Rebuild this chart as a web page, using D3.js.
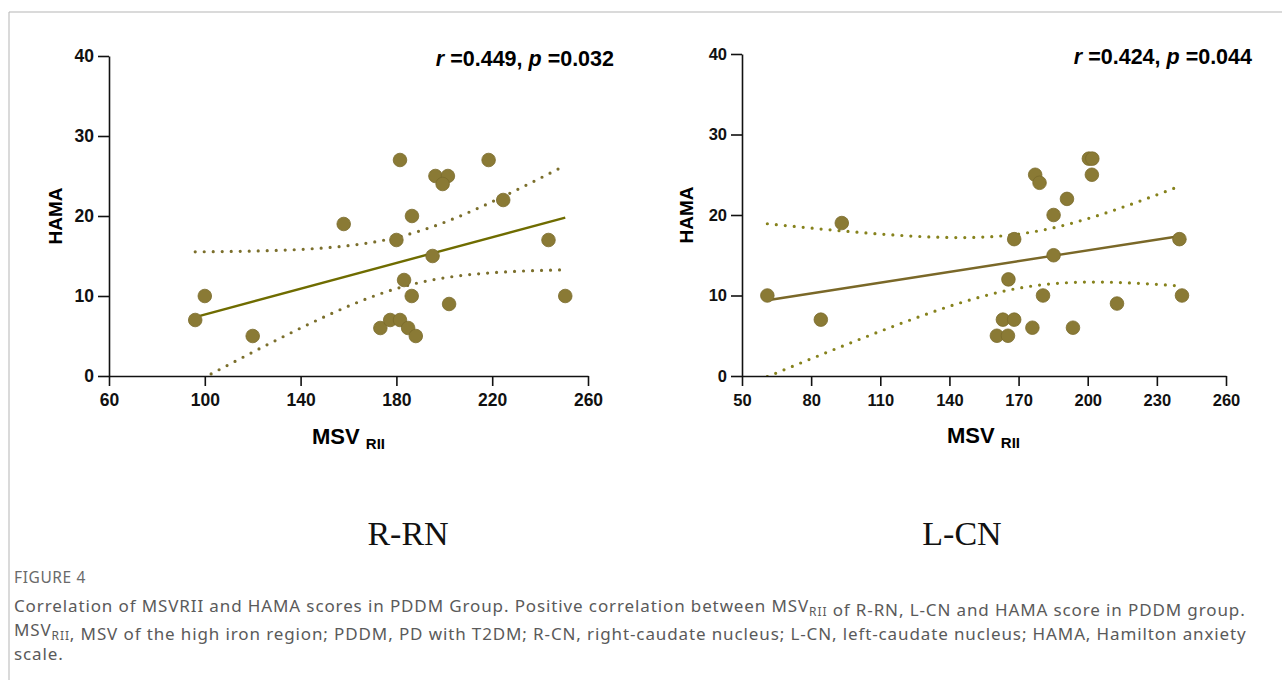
<!DOCTYPE html>
<html>
<head>
<meta charset="utf-8">
<script src="https://cdn.jsdelivr.net/npm/d3@7"></script>
<style>
body { margin: 0; background: #fff; }
svg { display: block; }
.tick text { font-family: Arial, "Liberation Sans", sans-serif; font-weight: bold; fill: #111; }
</style>
</head>
<body>
<div id="chart_area"></div>
<script>
// data
var rrnMsv  = [96, 100, 120, 158, 181.5, 180, 196.3, 201.5, 199.3, 218.5, 224.6, 186.5, 243.5, 195.1, 183.2, 186.4, 202, 250.5, 173.3, 177.4, 181.5, 184.9, 188.1];
var rrnHama = [7, 10, 5, 19, 27, 17, 25, 25, 24, 27, 22, 20, 17, 15, 12, 10, 9, 10, 6, 7, 7, 6, 5];

var lcnMsv  = [61, 84.2, 93.3, 177.2, 179.1, 200.5, 202, 201.8, 191, 185.2, 168.1, 239.8, 185.2, 165.6, 180.6, 240.9, 212.7, 163.2, 168.1, 176, 193.6, 160.6, 165.4];
var lcnHama = [10, 7, 19, 25, 24, 27, 27, 25, 22, 20, 17, 17, 15, 12, 10, 10, 9, 7, 7, 6, 6, 5, 5];

var rrnXTicks = [60, 100, 140, 180, 220, 260];
var lcnXTicks = [50, 80, 110, 140, 170, 200, 230, 260];
var yTicks = [0, 10, 20, 30, 40];

var sFrame = d3.select("#chart_area").append("svg")
	.attr("width", 1282)
	.attr("height", 680);

//frame lines of the figure box
sFrame.append("line").attr("x1", 9).attr("y1", 12).attr("x2", 1282).attr("y2", 12)
	.attr("stroke", "#b5b5b5").attr("stroke-width", 1);
sFrame.append("line").attr("x1", 9).attr("y1", 12).attr("x2", 9).attr("y2", 680)
	.attr("stroke", "#b5b5b5").attr("stroke-width", 1);

//least squares line and 95% band of the mean
function fitLine(xs, ys) {
	var n = xs.length;
	var mx = d3.mean(xs), my = d3.mean(ys);
	var sxx = d3.sum(xs, function(x){ return (x - mx) * (x - mx); });
	var sxy = d3.sum(xs, function(x, i){ return (x - mx) * (ys[i] - my); });
	var b = sxy / sxx, a = my - b * mx;
	var sse = d3.sum(xs, function(x, i){ var e = ys[i] - (a + b * x); return e * e; });
	var s = Math.sqrt(sse / (n - 2));
	return { a: a, b: b, s: s, n: n, mx: mx, sxx: sxx, t: 2.080 };
}

function drawPanel(p) {
	var g = sFrame.append("g");
	var x = d3.scaleLinear().domain(p.xDomain).range(p.xRange);
	var y = d3.scaleLinear().domain([0, 40]).range(p.yRange);

	var clipId = "clip" + p.id;
	g.append("clipPath").attr("id", clipId).append("rect")
		.attr("x", p.xRange[0]).attr("y", p.yRange[1])
		.attr("width", p.xRange[1] - p.xRange[0]).attr("height", p.yRange[0] - p.yRange[1]);

	var fit = fitLine(p.xs, p.ys);
	var x0 = d3.min(p.xs), x1 = d3.max(p.xs);
	var steps = d3.range(0, 101).map(function(i){ return x0 + (x1 - x0) * i / 100; });
	function half(v) { return fit.t * fit.s * Math.sqrt(1 / fit.n + (v - fit.mx) * (v - fit.mx) / fit.sxx); }
	var band = d3.line().x(function(d){ return x(d[0]); }).y(function(d){ return y(d[1]); });

	var upper = steps.map(function(v){ return [v, fit.a + fit.b * v + half(v)]; });
	var lower = steps.map(function(v){ return [v, fit.a + fit.b * v - half(v)]; });
	[upper, lower].forEach(function(pts){
		g.append("path").attr("d", band(pts))
			.attr("clip-path", "url(#" + clipId + ")")
			.attr("fill", "none")
			.attr("stroke", p.dotColor)
			.attr("stroke-width", 3.2)
			.attr("stroke-linecap", "round")
			.attr("stroke-dasharray", "0 9");
	});

	g.append("line")
		.attr("x1", x(x0)).attr("y1", y(fit.a + fit.b * x0))
		.attr("x2", x(x1)).attr("y2", y(fit.a + fit.b * x1))
		.attr("stroke", p.lineColor).attr("stroke-width", 2.4);

	g.selectAll("circle.pt").data(p.xs).enter().append("circle")
		.attr("class", "pt")
		.attr("cx", function(d){ return x(d); })
		.attr("cy", function(d, i){ return y(p.ys[i]); })
		.attr("r", 6.8)
		.attr("fill", "#8a7a35")
		.attr("stroke", "#7a6b2c")
		.attr("stroke-width", 0.8);

	//axes
	var xAxis = g.append("g").attr("transform", "translate(0," + p.yRange[0] + ")")
		.call(d3.axisBottom(x).tickValues(p.xTicks).tickSize(10).tickPadding(8).tickSizeOuter(0));
	var yAxis = g.append("g").attr("transform", "translate(" + p.xRange[0] + ",0)")
		.call(d3.axisLeft(y).tickValues(yTicks).tickSize(11).tickPadding(4).tickSizeOuter(0));
	[xAxis, yAxis].forEach(function(a){
		a.attr("font-size", p.tickFont);
		a.select(".domain").attr("stroke", "#111").attr("stroke-width", 1.6);
		a.selectAll(".tick line").attr("stroke", "#111").attr("stroke-width", 1.6);
		a.selectAll(".tick text").style("font-size", p.tickFont + "px");
	});

	g.append("text")
		.attr("transform", "translate(" + p.hamaX + "," + ((p.yRange[0] + p.yRange[1]) / 2) + ") rotate(-90)")
		.attr("text-anchor", "middle")
		.attr("dy", "0.35em")
		.style("font-family", "Arial, 'Liberation Sans', sans-serif")
		.style("font-weight", "bold")
		.style("font-size", "19px")
		.text("HAMA");

	var msv = g.append("text")
		.attr("x", p.msvX).attr("y", p.msvY)
		.style("font-family", "Arial, 'Liberation Sans', sans-serif")
		.style("font-weight", "bold")
		.style("font-size", "22px");
	msv.append("tspan").text("MSV ");
	msv.append("tspan").attr("dy", 5).style("font-size", "15px").text("RII");

	var stat = g.append("text")
		.attr("x", p.statX).attr("y", p.statY)
		.attr("text-anchor", "end")
		.style("font-family", "Arial, 'Liberation Sans', sans-serif")
		.style("font-weight", "bold")
		.style("font-size", "21.5px");
	stat.append("tspan").style("font-style", "italic").text("r");
	stat.append("tspan").text(" =" + p.r + ", ");
	stat.append("tspan").style("font-style", "italic").text("p");
	stat.append("tspan").text(" =" + p.p);

	g.append("text")
		.attr("x", p.titleX).attr("y", 545)
		.attr("text-anchor", "middle")
		.style("font-family", "'Liberation Serif', 'DejaVu Serif', serif")
		.style("font-size", "34px")
		.style("fill", "#111")
		.text(p.title);
}

drawPanel({ id: "a", xs: rrnMsv, ys: rrnHama, xDomain: [60, 260], xRange: [109, 588], yRange: [376, 56],
	xTicks: rrnXTicks, tickFont: 17.5, lineColor: "#6f6c00", dotColor: "#7b6f2c",
	hamaX: 55, msvX: 312, msvY: 444, statX: 614, statY: 66, r: "0.449", p: "0.032",
	title: "R-RN", titleX: 408 });

drawPanel({ id: "b", xs: lcnMsv, ys: lcnHama, xDomain: [50, 260], xRange: [742, 1226], yRange: [376, 54],
	xTicks: lcnXTicks, tickFont: 16.5, lineColor: "#7a6828", dotColor: "#86821c",
	hamaX: 686, msvX: 947, msvY: 443, statX: 1252, statY: 64, r: "0.424", p: "0.044",
	title: "L-CN", titleX: 962 });

//caption
var capFont = "'Noto Sans', 'Open Sans', sans-serif";
sFrame.append("text").attr("x", 14).attr("y", 583)
	.style("font-family", capFont).style("font-size", "15.5px").style("fill", "#6a6a6a")
	.style("letter-spacing", "0.6px")
	.text("FIGURE 4");

function capLine(yPos, parts) {
	var t = sFrame.append("text").attr("x", 14).attr("y", yPos)
		.style("font-family", capFont).style("font-size", "17px").style("fill", "#5a5a5a")
		.style("letter-spacing", "0.88px");
	parts.forEach(function(part){
		if (typeof part === "object") {
			t.append("tspan").attr("dy", 4).style("font-size", "12px").text(part.lower);
			t.append("tspan").attr("dy", -4).text("");
		} else {
			t.append("tspan").text(part);
		}
	});
}
capLine(612, ["Correlation of MSVRII and HAMA scores in PDDM Group. Positive correlation between MSV", { lower: "RII" },
	" of R-RN, L-CN and HAMA score in PDDM group."]);
capLine(636, ["MSV", { lower: "RII" }, ", MSV of the high iron region; PDDM, PD with T2DM; R-CN, right-caudate nucleus; L-CN, left-caudate nucleus; HAMA, Hamilton anxiety"]);
capLine(660, ["scale."]);
</script>
</body>
</html>
